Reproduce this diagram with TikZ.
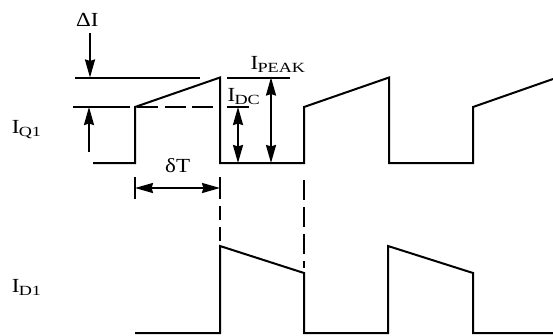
\documentclass[tikz,border=0pt]{standalone}
\usepackage{fontspec}
\setmainfont{Liberation Serif}
\usetikzlibrary{arrows.meta}
\newcommand{\mlbl}[1]{\scalebox{1.15}[1]{\fontsize{20}{22}\selectfont #1}}
\newcommand{\slbl}[1]{\kern-0.8pt\raisebox{-3pt}{\scalebox{1.3}[1]{\fontsize{14}{15}\selectfont #1}}}
\begin{document}
\begin{tikzpicture}[x=1pt,y=-1pt,
  wave/.style={line width=2pt, line join=miter},
  ln/.style={line width=2pt},
  dsh/.style={line width=2pt, dash pattern=on 21pt off 6.5pt},
  arr/.style={line width=2pt, -{Stealth[length=18pt,width=10pt,inset=1.5pt]}},
  darr/.style={line width=2pt, {Stealth[length=18pt,width=10pt,inset=1.5pt]}-{Stealth[length=18pt,width=10pt,inset=1.5pt]}},
  lbl/.style={inner sep=0pt, anchor=base west}]
\useasboundingbox (0,0) rectangle (553,335);

% labels
\node[lbl] (dI) at (76,26) {\mlbl{ΔI}};
\node[lbl] (iq) at (11.7,133.3) {\mlbl{I}\slbl{Q1}};
\node[lbl] (id) at (11.7,292.7) {\mlbl{I}\slbl{D1}};
\node[lbl] (ip) at (250.5,69) {\mlbl{I}\slbl{PEAK}};
\node[lbl] (ic) at (227.5,101) {\mlbl{I}\slbl{DC}};
\node[lbl] (dt) at (165,172) {\mlbl{δT}};

% Q1 waveform
\draw[wave] (93,163) -- (135,163) -- (135,107) -- (220,77.5) -- (220,163)
  -- (304,163) -- (304,107) -- (389,77.5) -- (389,163) -- (473,163)
  -- (473,107) -- (553,79);

% D1 waveform
\draw[wave] (135,333) -- (220,333) -- (220,246) -- (304,273) -- (304,333)
  -- (388,333) -- (388,246) -- (473,273) -- (473,333) -- (553,333);

% reference levels
\coordinate (pk0) at (75,77.5);
\coordinate (pk1) at (200,77.5);
\draw[ln] (pk0) -- (pk1);
\coordinate (dc0) at (73,107);
\coordinate (dc1) at (130,107);
\draw[ln] (dc0) -- (dc1);
\coordinate (dc2) at (137,107);
\coordinate (dc3) at (214,107);
\draw[dsh] (dc2) -- (dc3);
\coordinate (pk2) at (227,77.5);
\coordinate (pk3) at (290,77.5);
\draw[ln] (pk2) -- (pk3);
\coordinate (dc4) at (227,107);
\coordinate (dc5) at (249,107);
\draw[ln] (dc4) -- (dc5);

% delta I arrows
\coordinate (a0) at (90,33);
\coordinate (a1) at (90,77.5);
\draw[arr] (a0) -- (a1);
\coordinate (b0) at (89,152);
\coordinate (b1) at (89,107);
\draw[arr] (b0) -- (b1);

% IDC and IPEAK arrows
\coordinate (c0) at (238,107);
\coordinate (c1) at (238,163);
\draw[darr] (c0) -- (c1);
\coordinate (e0) at (271,77.5);
\coordinate (e1) at (271,163);
\draw[darr] (e0) -- (e1);

% delta T
\coordinate (t0) at (135,177);
\coordinate (t1) at (135,199);
\draw[ln] (t0) -- (t1);
\coordinate (u0) at (220,177);
\coordinate (u1) at (220,199);
\draw[ln] (u0) -- (u1);
\coordinate (u2) at (220,206);
\coordinate (u3) at (220,242);
\draw[ln, dash pattern=on 14pt off 7pt] (u2) -- (u3);
\coordinate (v0) at (304,180);
\coordinate (v1) at (304,268);
\draw[ln, dash pattern=on 20pt off 7pt] (v0) -- (v1);
\coordinate (w0) at (135,188);
\coordinate (w1) at (220,188);
\draw[darr] (w0) -- (w1);
\end{tikzpicture}
\end{document}
